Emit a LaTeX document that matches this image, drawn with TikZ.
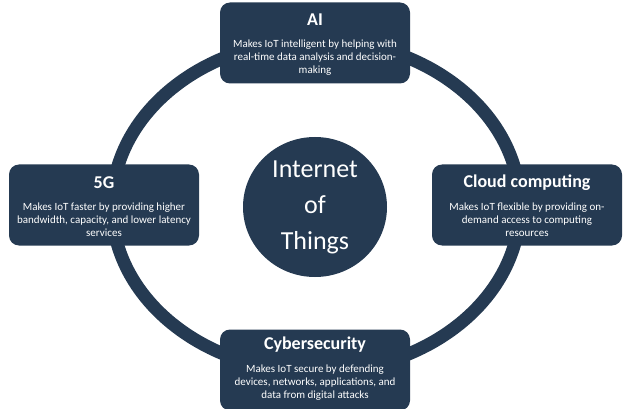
\documentclass[tikz,border=0pt]{standalone}
\usepackage{fontspec}
\setmainfont{Carlito}
\usetikzlibrary{shapes.geometric}
\definecolor{navy}{HTML}{253A52}
\begin{document}
\begin{tikzpicture}[x=1pt,y=-1pt,
  box/.style={fill=navy,rounded corners=10pt,minimum width=190pt,minimum height=81pt,inner sep=0pt},
  ttl/.style={text=white,font=\bfseries\fontsize{18}{20}\selectfont},
  body/.style={text=white,font=\fontsize{11}{13}\selectfont,align=center}]
\useasboundingbox (0,0) rectangle (624,409);
\draw[navy,line width=13pt] (316,206) ellipse [x radius=204, y radius=166];
\node[fill=navy,ellipse,minimum width=144pt,minimum height=140pt,inner sep=0pt,text=white,align=center,font=\fontsize{26}{36}\selectfont] (iot) at (315,207) {Internet\\of\\Things};
\node[box] (ai) at (315,43) {};
\node[ttl] (aiT) at (315,20) {AI};
\node[body] (aiB) at (315,58) {Makes IoT intelligent by helping with\\real-time data analysis and decision-\\making};
\node[box] (g5) at (104,205) {};
\node[ttl] (g5T) at (104,183) {5G};
\node[body] (g5B) at (104,220) {Makes IoT faster by providing higher\\bandwidth, capacity, and lower latency\\services};
\node[box] (cl) at (527,205) {};
\node[ttl] (clT) at (527,183) {Cloud computing};
\node[body] (clB) at (527,220) {Makes IoT flexible by providing on-\\demand access to computing\\resources};
\node[box] (cy) at (315,370) {};
\node[ttl] (cyT) at (315,345) {Cybersecurity};
\node[body] (cyB) at (315,383) {Makes IoT secure by defending\\devices, networks, applications, and\\data from digital attacks};
\end{tikzpicture}
\end{document}
